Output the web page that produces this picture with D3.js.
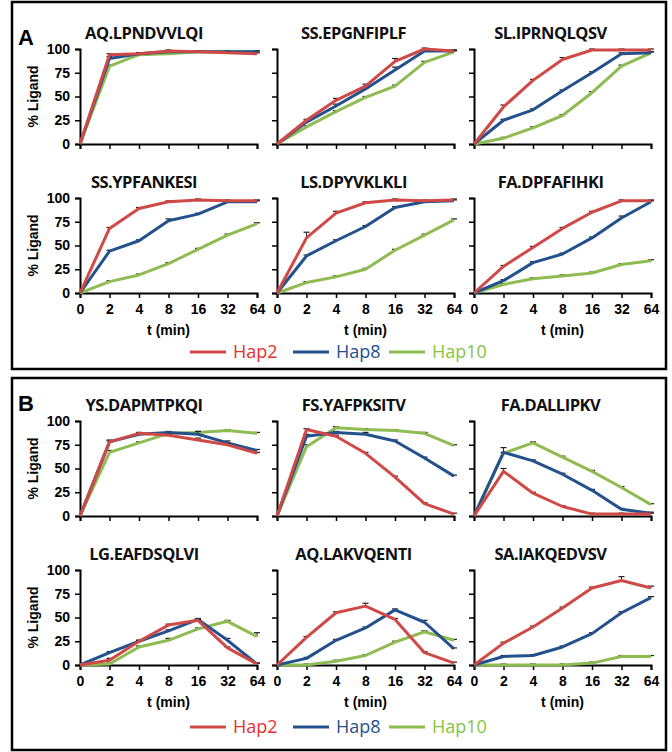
<!DOCTYPE html>
<html>
<head>
<meta charset="utf-8">
<script src="https://cdnjs.cloudflare.com/ajax/libs/d3/7.8.5/d3.min.js"></script>
<style>
  body { margin: 0; background: #fff; }
  svg { display: block; }
</style>
</head>
<body>
<svg id="chart" width="672" height="752"></svg>
<script>
const times = ["0", "2", "4", "8", "16", "32", "64"]
const yTicks = [0, 25, 50, 75, 100]
const seriesNames = ["Hap2", "Hap8", "Hap10"]

const peptidesA = ["AQ.LPNDVVLQI", "SS.EPGNFIPLF", "SL.IPRNQLQSV", "SS.YPFANKESI", "LS.DPYVKLKLI", "FA.DPFAFIHKI"]
const peptidesB = ["YS.DAPMTPKQI", "FS.YAFPKSITV", "FA.DALLIPKV", "LG.EAFDSQLVI", "AQ.LAKVQENTI", "SA.IAKQEDVSV"]

// % ligand per time point, one row per peptide
const hap2A = [
  [0, 94, 95, 98, 97, 96, 95],
  [0, 25, 46, 61, 87, 100, 98],
  [0, 39, 67, 89, 99, 99, 99],
  [0, 68, 89, 96, 98, 97, 97],
  [0, 58, 84, 95, 98, 97, 98],
  [0, 28, 48, 68, 85, 97, 97]
]
const hap8A = [
  [0, 90, 95, 97, 97, 97, 97],
  [0, 23, 40, 58, 78, 98, 98],
  [0, 25, 36, 56, 75, 95, 96],
  [0, 44, 55, 76, 83, 96, 96],
  [0, 39, 55, 70, 90, 96, 97],
  [0, 13, 32, 41, 58, 79, 96]
]
const hap10A = [
  [0, 82, 94, 95, 97, 97, 97],
  [0, 18, 34, 49, 61, 86, 97],
  [0, 6, 17, 30, 54, 82, 96],
  [0, 12, 19, 31, 46, 61, 73],
  [0, 11, 17, 25, 45, 61, 77],
  [0, 9, 15, 18, 21, 30, 34]
]
const hap2B = [
  [0, 78, 87, 85, 80, 75, 66],
  [0, 91, 84, 66, 41, 13, 2],
  [0, 47, 24, 10, 2, 2, 2],
  [0, 5, 25, 42, 47, 18, 1],
  [0, 29, 55, 62, 48, 13, 2],
  [0, 23, 40, 60, 81, 89, 81]
]
const hap8B = [
  [0, 78, 86, 88, 86, 77, 69],
  [0, 84, 88, 86, 79, 61, 42],
  [0, 67, 58, 44, 27, 7, 3],
  [0, 13, 25, 36, 48, 26, 1],
  [0, 7, 26, 39, 58, 45, 17],
  [0, 9, 10, 19, 33, 55, 71]
]
const hap10B = [
  [0, 67, 77, 87, 88, 90, 87],
  [0, 73, 93, 91, 90, 87, 74],
  [0, 66, 77, 62, 47, 30, 12],
  [0, 1, 19, 26, 38, 46, 30],
  [0, 0, 4, 10, 24, 35, 26],
  [0, 0, 0, 0, 2, 9, 9]
]
// upward error bars
const err2A = [
  [0, 1, 1, 1, 1, 1, 1], [0, 1, 2, 2, 3, 1, 1], [0, 2, 1, 2, 1, 1, 1],
  [0, 1, 1, 1, 1, 1, 1], [0, 6, 2, 1, 1, 1, 1], [0, 1, 1, 1, 1, 1, 1]
]
const err8A = [
  [0, 2, 1, 1, 1, 1, 1], [0, 1, 2, 1, 3, 1, 1], [0, 1, 1, 1, 1, 1, 1],
  [0, 1, 1, 2, 1, 1, 1], [0, 1, 1, 1, 1, 1, 1], [0, 1, 1, 1, 1, 2, 1]
]
const err10A = [
  [0, 1, 1, 1, 1, 1, 1], [0, 1, 1, 1, 1, 1, 1], [0, 1, 1, 1, 1, 1, 1],
  [0, 1, 1, 1, 1, 1, 1], [0, 1, 1, 1, 1, 1, 1], [0, 1, 1, 1, 1, 1, 1]
]
const err2B = [
  [0, 2, 1, 1, 2, 1, 1], [0, 1, 1, 1, 1, 1, 1], [0, 3, 1, 1, 1, 1, 1],
  [0, 2, 1, 1, 1, 1, 1], [0, 1, 1, 3, 1, 1, 1], [0, 1, 1, 1, 1, 4, 2]
]
const err8B = [
  [0, 1, 1, 1, 3, 2, 1], [0, 2, 1, 2, 1, 1, 1], [0, 5, 1, 1, 1, 1, 1],
  [0, 1, 1, 1, 1, 2, 1], [0, 1, 1, 1, 1, 2, 1], [0, 1, 1, 1, 1, 1, 1]
]
const err10B = [
  [0, 2, 1, 1, 1, 1, 1], [0, 2, 1, 1, 1, 1, 1], [0, 1, 1, 1, 1, 1, 1],
  [0, 1, 1, 2, 1, 1, 4], [0, 1, 1, 1, 1, 1, 1], [0, 1, 1, 1, 1, 1, 1]
]

const lineColors = ["#cf4a47", "#24518c", "#8fbc52"]
const legendTextColors = ["#e8302c", "#24518c", "#86c443"]

const svg = d3.select("#chart")
const colX = [80, 277, 474]
const plotW = 177
const plotH = 95

function drawPanel(letter, boxTop, boxBottom, rowTops, legendY, peptides, vals, errs) {
  svg.append("rect")
    .attr("x", 12).attr("y", boxTop)
    .attr("width", 654).attr("height", boxBottom - boxTop)
    .attr("fill", "none").attr("stroke", "#000").attr("stroke-width", 2.5)

  svg.append("text")
    .attr("x", 18).attr("y", boxTop + (letter == "A" ? 43 : 33))
    .attr("font-family", "Liberation Sans, Arial, sans-serif")
    .attr("font-weight", "bold").attr("font-size", 22)
    .text(letter)

  peptides.forEach((pep, i) => {
    let row = Math.floor(i / 3), col = i % 3
    let x0 = colX[col], y0 = rowTops[row]
    let x = d3.scalePoint().domain(times).range([0, plotW])
    let y = d3.scaleLinear().domain([0, 100]).range([plotH, 0])

    let g = svg.append("g").attr("transform", `translate(${x0},${y0})`)

    // title
    let tx = col == 0 ? 64 : plotW / 2 - 12
    g.append("text")
      .attr("x", tx).attr("y", -10)
      .attr("text-anchor", "middle")
      .attr("font-family", "Open Sans, sans-serif")
      .attr("font-weight", "bold").attr("font-size", 16.5)
      .attr("letter-spacing", -0.5)
      .attr("fill", "#111")
      .text(pep)

    let yAxis = d3.axisLeft(y).tickValues(yTicks).tickSize(5)
    if (col > 0) yAxis.tickFormat("")
    let ya = g.append("g").call(yAxis)
    let xAxis = d3.axisBottom(x).tickSize(5).tickPadding(6)
    if (row == 0) xAxis.tickFormat("")
    let xa = g.append("g").attr("transform", `translate(0,${plotH})`).call(xAxis)

    ;[ya, xa].forEach(a => {
      a.select(".domain").attr("stroke", "#000").attr("stroke-width", 2)
      a.selectAll(".tick line").attr("stroke", "#000").attr("stroke-width", 1.5)
      a.selectAll("text")
        .attr("font-family", "Liberation Sans, Arial, sans-serif")
        .attr("font-weight", "bold").attr("font-size", 14).attr("fill", "#000")
    })
    ya.selectAll("text").attr("x", -10)

    if (col == 0) {
      g.append("text")
        .attr("transform", `translate(-42,${plotH / 2}) rotate(-90)`)
        .attr("text-anchor", "middle")
        .attr("font-family", "Liberation Sans, Arial, sans-serif")
        .attr("font-weight", "bold").attr("font-size", 14)
        .text("% Ligand")
    }
    if (row == 1) {
      g.append("text")
        .attr("x", plotW / 2).attr("y", plotH + 42)
        .attr("text-anchor", "middle")
        .attr("font-family", "Liberation Sans, Arial, sans-serif")
        .attr("font-weight", "bold").attr("font-size", 14)
        .text("t (min)")
    }

    let line = d3.line().x((d, j) => x(times[j])).y(d => y(d))
    // draw green, blue, red so red ends on top
    for (let s = 2; s >= 0; s--) {
      let v = vals[s][i], e = errs[s][i]
      let eb = g.append("g")
      v.forEach((d, j) => {
        if (!e[j]) return
        let cx = x(times[j])
        eb.append("line")
          .attr("x1", cx).attr("x2", cx)
          .attr("y1", y(d)).attr("y2", y(d + e[j]))
          .attr("stroke", "#222").attr("stroke-width", 1)
        eb.append("line")
          .attr("x1", cx - 3).attr("x2", cx + 3)
          .attr("y1", y(d + e[j])).attr("y2", y(d + e[j]))
          .attr("stroke", "#222").attr("stroke-width", 1.2)
      })
      g.append("path")
        .datum(v)
        .attr("d", line)
        .attr("fill", "none")
        .attr("stroke", lineColors[s])
        .attr("stroke-width", 3)
        .attr("stroke-linejoin", "round")
    }
  })

  // legend
  let lx = [190, 293, 389]
  seriesNames.forEach((name, s) => {
    svg.append("line")
      .attr("x1", lx[s]).attr("x2", lx[s] + 36)
      .attr("y1", legendY).attr("y2", legendY)
      .attr("stroke", lineColors[s]).attr("stroke-width", 3)
    svg.append("text")
      .attr("x", lx[s] + 43).attr("y", legendY + 6)
      .attr("font-family", "Open Sans, sans-serif")
      .attr("font-size", 18)
      .attr("fill", legendTextColors[s])
      .text(name)
  })
}

drawPanel("A", 2, 369, [49, 198], 352, peptidesA, [hap2A, hap8A, hap10A], [err2A, err8A, err10A])
drawPanel("B", 378, 750, [421, 570], 727, peptidesB, [hap2B, hap8B, hap10B], [err2B, err8B, err10B])
</script>
</body>
</html>
